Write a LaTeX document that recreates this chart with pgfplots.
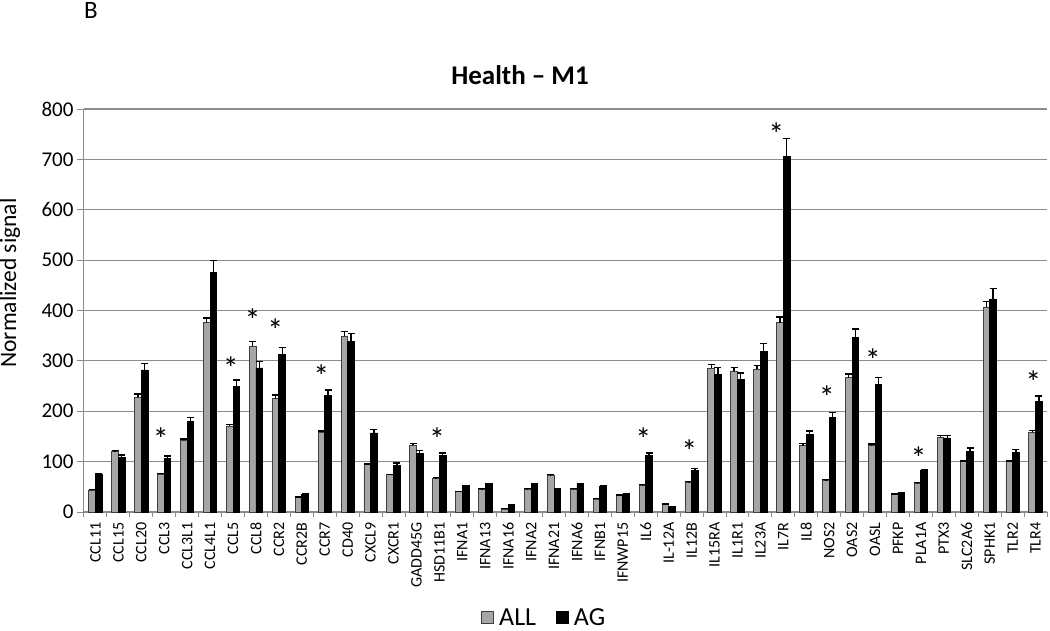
\documentclass[border=0pt]{standalone}
\usepackage{pgfplots}
\pgfplotsset{compat=1.18}
\usepackage{pgfplotstable}
\usepackage{fontspec}
\setmainfont{Carlito}
\usetikzlibrary{plotmarks}
\definecolor{allgray}{HTML}{A6A6A6}
\definecolor{gridgray}{HTML}{8C8C8C}

\pgfplotstableread{
x all allerr ag agerr
1 43 2 74 2
2 120 2 109 4
3 228 6 282 13
4 75 2 106 5
5 142 3 179 9
6 376 9 476 23
7 170 4 250 12
8 329 9 286 13
9 225 7 312 15
10 28 2 35 1
11 158 3 231 11
12 349 10 339 15
13 94 1 157 7
14 74 1 93 4
15 133 3 117 5
16 67 1 112 5
17 40 1 52 1
18 45 1 56 1
19 6 1 13 1
20 45 1 56 1
21 73 1 46 1
22 45 1 56 1
23 26 1 51 1
24 33 1 35 1
25 53 1 112 5
26 15 1 9 1
27 59 1 83 3
28 286 7 273 14
29 279 8 263 13
30 284 7 319 15
31 376 11 706 35
32 132 4 154 7
33 63 1 188 9
34 267 7 346 17
35 132 3 254 13
36 35 1 38 1
37 57 1 83 2
38 148 4 147 5
39 100 1 121 6
40 407 11 423 21
41 100 1 119 5
42 158 4 219 11
}\datatable

\pgfplotstableread{
x y
3.85 144
6.9 286
7.85 380
8.85 362
10.85 269
15.9 144
24.9 144
26.9 120
30.7 750
32.9 228
34.9 302
36.9 107
41.9 258
}\startable

\begin{document}
\begin{tikzpicture}[x=1pt,y=1pt]
\useasboundingbox (0,0) rectangle (1050,630);
\node[font=\fontsize{25}{29}\selectfont] at (91,620) {B};
\node[font=\bfseries\fontsize{27}{31}\selectfont] at (520,555) {Health – M1};
\begin{axis}[
  at={(84pt,118pt)}, anchor=south west,
  scale only axis, width=963pt, height=403pt,
  xmin=0.5, xmax=42.5, ymin=0, ymax=800,
  clip=false,
  axis x line*=bottom, axis y line*=left,
  axis line style={gridgray, line width=1pt},
  ymajorgrids, grid style={gridgray, line width=1.2pt},
  ytick={0,100,...,800},
  tick align=outside,
  major tick length=7pt,
  minor tick length=5pt,
  ytick style={gridgray, line width=1pt},
  xtick={1,...,42},
  xticklabels={CCL11,CCL15,CCL20,CCL3,CCL3L1,CCL4L1,CCL5,CCL8,CCR2,CCR2B,CCR7,CD40,CXCL9,CXCR1,GADD45G,HSD11B1,IFNA1,IFNA13,IFNA16,IFNA2,IFNA21,IFNA6,IFNB1,IFNWP15,IL6,IL-12A,IL12B,IL15RA,IL1R1,IL23A,IL7R,IL8,NOS2,OAS2,OASL,PFKP,PLA1A,PTX3,SLC2A6,SPHK1,TLR2,TLR4},
  major x tick style={draw=none},
  minor xtick={0.5,1.5,...,42.5},
  minor x tick style={gridgray, line width=1pt},
  xticklabel style={rotate=90, anchor=east, font=\fontsize{16}{18}\selectfont},
  yticklabel style={font=\fontsize{21}{24}\selectfont},
  /pgf/number format/assume math mode=true,
  ylabel={Normalized signal},
  ylabel style={at={(axis description cs:-0.0768,0.568)}, anchor=center, font=\fontsize{23.5}{27}\selectfont},
  legend columns=2,
  legend style={at={(0.478,-0.262)}, anchor=center, draw=none, fill=none,
    inner sep=1pt,
    font=\fontsize{26}{28}\selectfont,
    /tikz/every even column/.append style={column sep=18pt}},
]
\addplot[ybar, bar width=0.29, bar shift=0, fill=allgray, draw=black!75, line width=0.8pt,
  legend image code/.code={\draw[fill=allgray, draw=black!75, line width=0.8pt] (0pt,-6pt) rectangle (12pt,6pt); \path (15pt,0pt);},
  error bars/.cd, y dir=plus, y explicit,
  error bar style={black, line width=1.3pt},
  error mark=-,
  error mark options={black, line width=1.3pt, mark size=3.5pt, rotate=90}]
  table[x expr=\thisrow{x}-0.145, y=all, y error=allerr] {\datatable};
\addlegendentry{ALL}
\addplot[ybar, bar width=0.29, bar shift=0, fill=black, draw=black, line width=0.8pt,
  legend image code/.code={\draw[fill=black, draw=black, line width=0.8pt] (0pt,-6pt) rectangle (12pt,6pt); \path (15pt,0pt);},
  error bars/.cd, y dir=plus, y explicit,
  error bar style={black, line width=1.3pt},
  error mark=-,
  error mark options={black, line width=1.3pt, mark size=3.5pt, rotate=90}]
  table[x expr=\thisrow{x}+0.145, y=ag, y error=agerr] {\datatable};
\addlegendentry{AG}
\addplot[only marks, mark=text, text mark={*}, text mark as node=true,
  text mark style={font=\fontsize{32}{32}\selectfont}, forget plot]
  table[x=x, y=y] {\startable};
\end{axis}
\end{tikzpicture}
\end{document}
